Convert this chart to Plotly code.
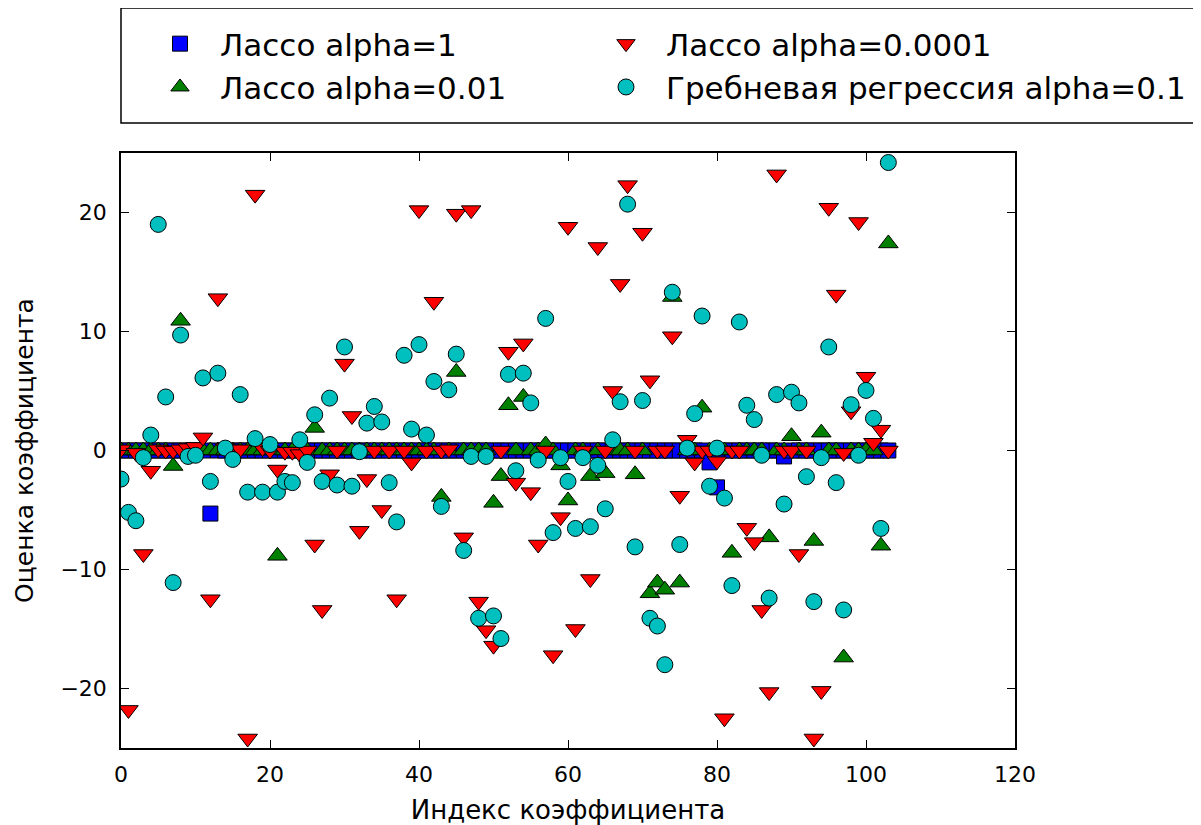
import plotly.graph_objects as go

n_coef = 104
idx = list(range(n_coef))

# Lasso alpha=1 (mostly zero)
lasso_1 = [0.0] * n_coef
for i, v in {12: -5.3, 79: -1.0, 80: -3.1, 89: -0.5}.items():
    lasso_1[i] = v

# Lasso alpha=0.01
lasso_001 = [0.0] * n_coef
for i, v in {7: -1.3, 8: 10.9, 21: -8.85, 26: 1.9, 43: -3.9, 45: 6.6, 50: -4.4,
             51: -2.15, 52: 3.8, 54: 4.5, 57: 0.5, 59: -1.25, 60: -4.2, 63: -2.15,
             65: -1.9, 69: -2.0, 71: -12.0, 72: -11.1, 73: -11.7, 74: 12.9,
             75: -11.1, 78: 3.6, 82: -8.6, 87: -7.3, 90: 1.2, 93: -7.6, 94: 1.5,
             97: -17.4, 102: -8.0, 103: 17.4}.items():
    lasso_001[i] = v

# Lasso alpha=0.0001
lasso_00001 = [
    0.1, -21.8, -0.2, -8.7, -1.7, 0.1, 0.0, 0.0, 0.1, 0.2,
    0.3, 1.1, -12.5, 12.8, 0.2, 0.1, 0.1, -24.2, 21.5, 0.2,
    0.0, -1.6, -0.1, -0.1, -0.3, 0.0, -7.9, -13.4, -2.0, 0.0,
    7.3, 2.9, -6.75, -2.4, 0.0, -5.0, 0.0, -12.5, 0.0, -1.0,
    20.2, 0.0, 12.5, 0.0, 0.1, 19.9, -7.3, 20.2, -12.7, -15.1,
    -16.4, 0.0, 8.3, -2.7, 9.0, -3.5, -7.9, 0.0, -17.2, -5.6,
    18.8, -15.0, 0.0, -10.8, 17.1, 0.0, 5.0, 14.0, 22.3, 0.0,
    18.3, 5.9, 0.0, 0.0, 9.6, -3.8, 0.9, -1.0, 0.0, 0.0,
    -0.9, -22.5, 0.0, 0.0, -6.5, -7.7, -13.4, -20.3, 23.2, 0.0,
    0.0, -8.7, 0.0, -24.2, -20.2, 20.4, 13.1, -0.2, 3.3, 19.2,
    6.2, 0.65, 1.75, 0.0,
]

# Ridge alpha=0.1
ridge_01 = [
    -2.4, -5.2, -5.9, -0.6, 1.3, 19.0, 4.5, -11.1, 9.7, -0.5,
    -0.4, 6.1, -2.6, 6.5, 0.2, -0.75, 4.7, -3.5, 1.0, -3.5,
    0.5, -3.5, -2.6, -2.7, 0.9, -1.0, 3.0, -2.6, 4.4, -2.9,
    8.7, -3.0, -0.1, 2.3, 3.7, 2.4, -2.7, -6.0, 8.0, 1.8,
    8.9, 1.3, 5.8, -4.7, 5.1, 8.1, -8.4, -0.5, -14.1, -0.5,
    -13.9, -15.8, 6.4, -1.7, 6.5, 4.0, -0.8, 11.1, -6.9, -0.6,
    -2.6, -6.55, -0.6, -6.4, -1.25, -4.9, 0.9, 4.1, 20.7, -8.1,
    4.2, -14.1, -14.75, -18.0, 13.3, -7.9, 0.2, 3.1, 11.3, -3.0,
    0.2, -4.0, -11.35, 10.8, 3.8, 2.6, -0.4, -12.4, 4.7, -4.5,
    4.9, 4.0, -2.2, -12.7, -0.6, 8.7, -2.7, -13.4, 3.85, -0.4,
    5.05, 2.7, -6.55, 24.2,
]

x_ticks = [0, 20, 40, 60, 80, 100, 120]
y_ticks = [-20, -10, 0, 10, 20]

FONT = "DejaVu Sans"
edge = dict(color="#000000", width=1)

# reference-pixel helpers (page body has an 8px offset, compensated in size/margins)
PL, PT, PW, PH = 121, 153, 894, 595
def px(p):
    return (p - PL) / PW
def py(p):
    return 1 + (PT - p) / PH

fig = go.Figure()
fig.add_trace(go.Scatter(x=idx, y=lasso_1, mode="markers", name="Лассо alpha=1",
                         legend="legend", legendgroup="a",
                         marker=dict(symbol="square", size=15, color="#0000ff", line=edge)))
fig.add_trace(go.Scatter(x=idx, y=lasso_001, mode="markers", name="Лассо alpha=0.01",
                         legend="legend", legendgroup="b",
                         marker=dict(symbol="triangle-up", size=17, color="#008000", line=edge)))
fig.add_trace(go.Scatter(x=idx, y=lasso_00001, mode="markers", name="Лассо alpha=0.0001",
                         legend="legend2", legendgroup="c",
                         marker=dict(symbol="triangle-down", size=17, color="#ff0000", line=edge)))
fig.add_trace(go.Scatter(x=idx, y=ridge_01, mode="markers", name="Гребневая регрессия alpha=0.1",
                         legend="legend2", legendgroup="d",
                         marker=dict(symbol="circle", size=16, color="#00bfbf", line=edge)))

axis_common = dict(showline=True, linecolor="black", linewidth=1.5, mirror="ticks",
                   ticks="inside", ticklen=8, tickwidth=1, tickcolor="black",
                   showgrid=False, zeroline=False,
                   tickfont=dict(family=FONT, size=22, color="black"))

fig.update_xaxes(range=[0, 120], tickvals=x_ticks, ticklabelstandoff=6,
                 title=dict(text="Индекс коэффициента", font=dict(family=FONT, size=26, color="black"),
                            standoff=15),
                 **axis_common)
fig.update_yaxes(range=[-25, 25], tickvals=y_ticks, ticklabelstandoff=8,
                 title=dict(text="Оценка коэффициента", font=dict(family=FONT, size=25, color="black"),
                            standoff=20),
                 **axis_common)

# legend frame (extends beyond the right edge like in the reference)
fig.add_shape(type="rect", xref="paper", yref="paper",
              x0=0, x1=px(1240), y0=py(123), y1=py(8),
              line=dict(color="black", width=1.5), fillcolor="white", layer="below")

leg_common = dict(orientation="v", yanchor="top", xanchor="left",
                  bgcolor="rgba(0,0,0,0)", borderwidth=0,
                  font=dict(family=FONT, size=31, color="black"),
                  itemwidth=70, tracegroupgap=0)

fig.update_layout(
    width=1193, height=817,
    margin=dict(l=113, r=186, t=145, b=77, autoexpand=False),
    paper_bgcolor="white", plot_bgcolor="white",
    font=dict(family=FONT, color="black"),
    showlegend=True,
    legend=dict(x=px(140), y=py(17), **leg_common),
    legend2=dict(x=px(586), y=py(17), **leg_common),
)

fig.write_html("out.html")
